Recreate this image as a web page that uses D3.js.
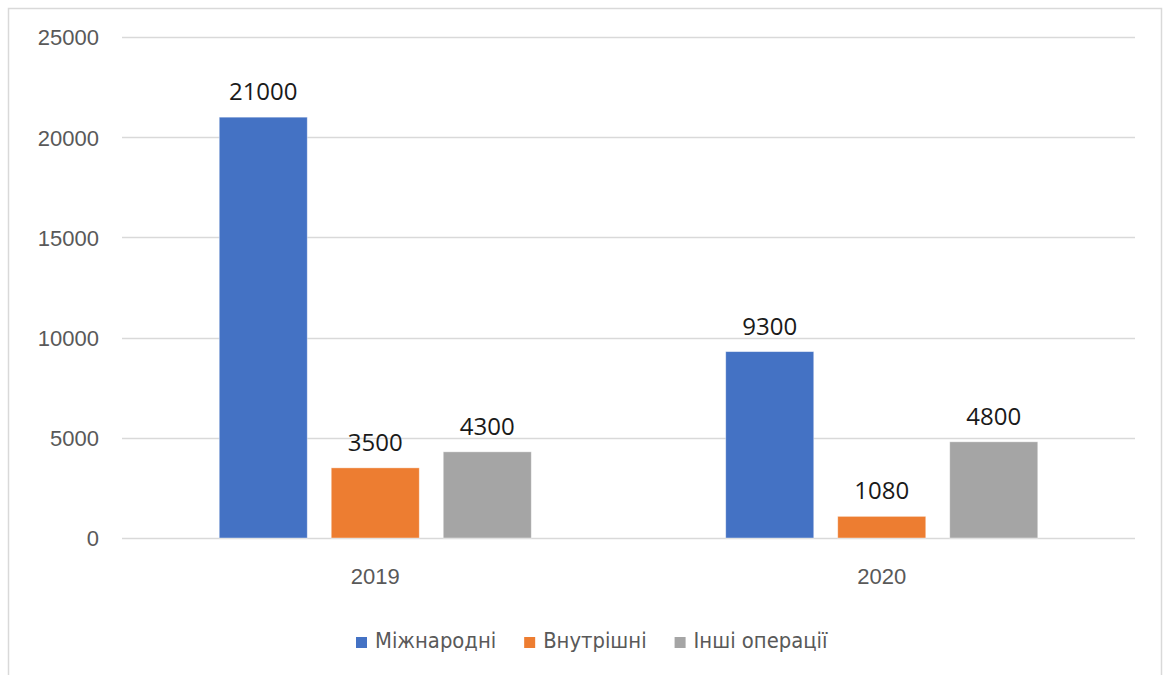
<!DOCTYPE html>
<html><head><meta charset="utf-8">
<script src="https://cdn.jsdelivr.net/npm/d3@7"></script>
<style>body{margin:0;background:#fff}</style>
</head><body>
<svg id="c" width="1163" height="675"></svg>
<script>
const categories = ["2019", "2020"];
const seriesNames = ["Міжнародні", "Внутрішні", "Інші операції"];
const seriesColors = ["#4472C4", "#ED7D31", "#A5A5A5"];
const values2019 = [21000, 3500, 4300];
const values2020 = [9300, 1080, 4800];
const yTicks = [0, 5000, 10000, 15000, 20000, 25000];
const valuesByCat = [values2019, values2020];

const svg = d3.select("#c");
svg.append("rect").attr("x", 8.5).attr("y", 8.5).attr("width", 1153).attr("height", 700)
  .attr("fill", "#fff").attr("stroke", "#d9d9d9").attr("stroke-width", 1.5);

const y = d3.scaleLinear().domain([0, 25000]).range([538, 37]);
const x0 = d3.scaleBand().domain(categories).range([122, 1135]).padding(0);
const x1 = d3.scaleBand().domain(seriesNames).range([0, x0.bandwidth()])
  .paddingInner(0.214).paddingOuter(0.868);

// gridlines
svg.append("g").selectAll("line").data(yTicks).join("line")
  .attr("x1", 122).attr("x2", 1135)
  .attr("y1", d => Math.round(y(d)) + 0.5).attr("y2", d => Math.round(y(d)) + 0.5)
  .attr("stroke", "#d9d9d9").attr("stroke-width", 1.5);

// y axis labels
const yAxis = d3.axisLeft(y).tickValues(yTicks).tickSize(0).tickPadding(0).tickFormat(d3.format("d"));
const ya = svg.append("g").attr("transform", "translate(99,0)").call(yAxis);
ya.select(".domain").remove();
ya.selectAll("text").attr("font-family", "Liberation Sans, Arial, sans-serif")
  .attr("font-size", 22).attr("fill", "#595959").attr("dy", "0.36em");

// bars
const groups = svg.append("g").selectAll("g").data(categories).join("g")
  .attr("transform", d => `translate(${x0(d)},0)`);
groups.selectAll("rect").data((d, i) => valuesByCat[i].map((v, j) => ({v, s: seriesNames[j], c: seriesColors[j]})))
  .join("rect")
  .attr("x", d => x1(d.s)).attr("width", x1.bandwidth())
  .attr("y", d => y(d.v)).attr("height", d => y(0) - y(d.v))
  .attr("fill", d => d.c).attr("stroke", "#ffffff").attr("stroke-opacity", 0.5).attr("stroke-width", 0.8);
groups.selectAll("text").data((d, i) => valuesByCat[i].map((v, j) => ({v, s: seriesNames[j]})))
  .join("text")
  .attr("x", d => x1(d.s) + x1.bandwidth() / 2).attr("y", d => y(d.v) - 17)
  .attr("text-anchor", "middle").attr("font-family", "Open Sans, sans-serif")
  .attr("font-size", 24).attr("fill", "#1a1a1a").text(d => d.v);

// x axis labels
const xAxis = d3.axisBottom(x0).tickSize(0).tickPadding(0);
const xa = svg.append("g").attr("transform", "translate(0,584)").call(xAxis);
xa.select(".domain").remove();
xa.selectAll("text").attr("font-family", "Liberation Sans, Arial, sans-serif")
  .attr("font-size", 22).attr("fill", "#595959").attr("dy", 0).attr("y", 0);

// legend
const legend = svg.append("g").attr("transform", "translate(0,648)");
let lx = 356;
seriesNames.forEach((n, i) => {
  legend.append("rect").attr("x", lx).attr("y", -11).attr("width", 11).attr("height", 11).attr("fill", seriesColors[i]);
  const t = legend.append("text").attr("x", lx + 19).attr("y", 0)
    .attr("font-family", "DejaVu Sans Condensed, DejaVu Sans, sans-serif")
    .attr("font-size", 21.8).attr("fill", "#595959").text(n);
  lx += 19 + t.node().getComputedTextLength() + 28;
});
</script>
</body></html>
